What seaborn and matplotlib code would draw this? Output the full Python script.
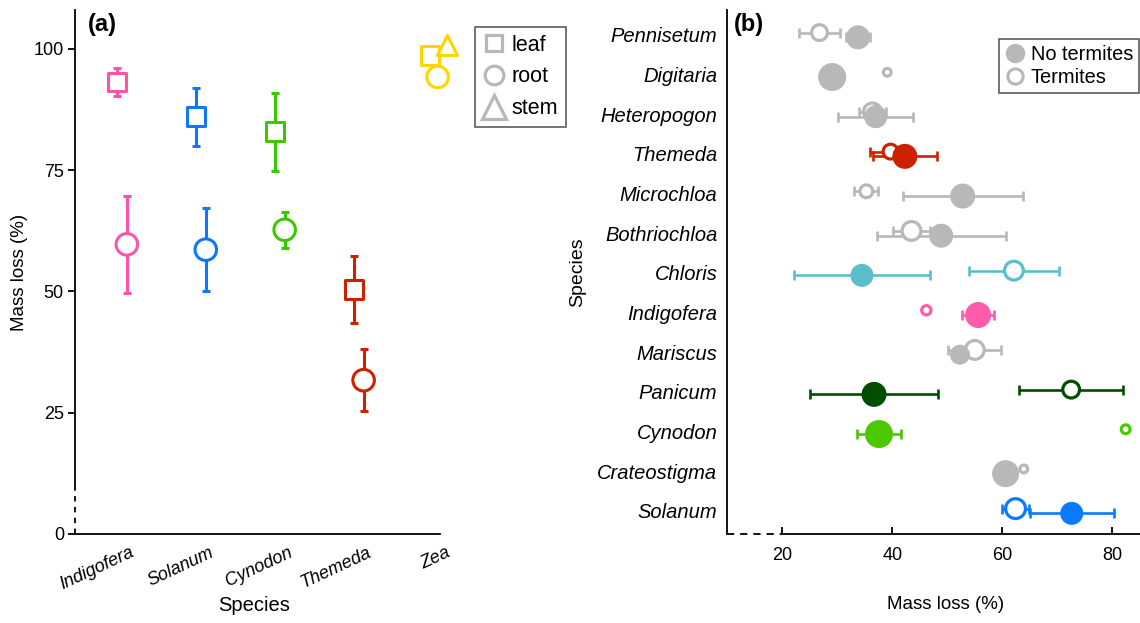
import matplotlib
matplotlib.use("Agg")
import matplotlib.pyplot as plt
import matplotlib.transforms as mtransforms
from matplotlib.lines import Line2D
import numpy as np
import pandas as pd
import seaborn as sns

# ---------------- panel (a): mass loss per plant part ----------------
species_a = ["Indigofera", "Solanum", "Cynodon", "Themeda", "Zea"]
leaf_mean = [93.2, 86.0, 82.9, 50.4, 98.6]
leaf_err = [2.9, 6.0, 8.0, 6.9, 0.0]
root_mean = [59.7, 58.6, 62.7, 31.7, 94.2]
root_err = [10.0, 8.5, 3.7, 6.4, 0.0]
stem_mean = [np.nan, np.nan, np.nan, np.nan, 100.7]
stem_err = [0.0, 0.0, 0.0, 0.0, 0.0]

# ---------------- panel (b): with / without termites ----------------
species_b = ["Pennisetum", "Digitaria", "Heteropogon", "Themeda", "Microchloa",
             "Bothriochloa", "Chloris", "Indigofera", "Mariscus", "Panicum",
             "Cynodon", "Crateostigma", "Solanum"]
noterm_mean = [33.8, 29.1, 37.0, 42.3, 52.8, 48.9, 34.5, 55.6, 52.3, 36.7, 37.6, 60.6, 72.6]
noterm_err = [2.2, 0.0, 6.85, 5.8, 10.9, 11.7, 12.3, 2.9, 0.0, 11.6, 4.0, 0.0, 7.6]
term_mean = [26.8, 39.1, 36.4, 39.7, 35.3, 43.5, 62.1, 46.2, 55.0, 72.5, 82.4, 63.9, 62.4]
term_err = [3.7, 0.0, 2.5, 3.8, 2.2, 3.3, 8.2, 0.0, 4.8, 9.5, 0.0, 0.0, 2.4]

# marker diameters (px) as drawn in panel (b)
dot_noterm = [24, 28, 23, 25, 25, 24, 23, 26, 20, 25, 28, 27, 23]
dot_term = [19, 11, 21, 18, 16, 22, 22, 12.5, 22, 20, 12, 11, 23]

# small horizontal dodge of the parts in panel (a)
dx_leaf = [-0.062, -0.062, -0.062, -0.062, -0.095]
dx_root = [0.062, 0.062, 0.062, 0.062, 0.0]
dx_stem = [0.0, 0.0, 0.0, 0.0, 0.12]

col_a = {"Indigofera": "#FF52A8", "Solanum": "#0A78FF", "Cynodon": "#3CC800",
         "Themeda": "#CC2200", "Zea": "#FFD500"}
gray = "#B8B8B8"
col_b = {s: gray for s in species_b}
col_b.update({"Themeda": "#CC2200", "Chloris": "#5BBFCB", "Indigofera": "#FF5CAE",
              "Panicum": "#004D00", "Cynodon": "#4CC800", "Solanum": "#0A7BFF"})

sns.set_theme(style="white")
plt.rcParams["font.family"] = ["Liberation Sans", "DejaVu Sans"]
plt.rcParams.update({"axes.linewidth": 1.3, "axes.edgecolor": "black", "text.color": "black",
                     "axes.labelcolor": "black", "xtick.color": "black", "ytick.color": "black"})

fig = plt.figure(figsize=(11.4, 6.23), dpi=100)
W, H = 1140, 623
ax1 = fig.add_axes([75 / W, 1 - 534 / H, 365 / W, 524 / H])
ax2 = fig.add_axes([727 / W, 1 - 534 / H, 413 / W, 524 / H])

# ---------- panel (a) ----------
rows = []
for i, sp in enumerate(species_a):
    for part, m, e, dx in (("leaf", leaf_mean, leaf_err, dx_leaf),
                           ("root", root_mean, root_err, dx_root),
                           ("stem", stem_mean, stem_err, dx_stem)):
        if not np.isnan(m[i]):
            rows.append(dict(species=sp, part=part, x=i + dx[i], mean=m[i], err=e[i]))
df_a = pd.DataFrame(rows)

for _, r in df_a.iterrows():
    if r["err"] > 0:
        ax1.errorbar(r["x"], r["mean"], yerr=r["err"], fmt="none", ecolor=col_a[r["species"]],
                     elinewidth=2.2, capsize=2.6, capthick=2.2, zorder=2)

marks = {"leaf": ("s", 13.4), "root": ("o", 15.5), "stem": ("^", 14.5)}
for part, (mk, ms) in marks.items():
    sub = df_a[df_a["part"] == part]
    sns.scatterplot(data=sub, x="x", y="mean", hue="species", palette=col_a, marker=mk,
                    s=ms ** 2, linewidth=2.2, legend=False, ax=ax1, zorder=3, clip_on=False)
    coll = ax1.collections[-1]
    coll.set_edgecolors(coll.get_facecolors())
    coll.set_facecolors("white")
    coll.set_linewidths(2.2)

ax1.set_yticks([0, 25, 50, 75, 100])
ax1.set_xticks(range(len(species_a)))
ax1.set_xticklabels(species_a, rotation=25, ha="right", va="top", rotation_mode="anchor",
                    fontstyle="italic")
ax1.set_xlim(-0.595, 4.03)
ax1.set_ylim(0, 108)
ax1.tick_params(axis="y", direction="out", length=5, width=1.3, pad=3, labelsize=13, left=True)
ax1.tick_params(axis="x", length=0, pad=7, labelsize=13)
# labels sit a little right of each species column
shift = mtransforms.ScaledTranslation(8 / 100, 0, fig.dpi_scale_trans)
for t in ax1.xaxis.get_major_ticks():
    t.label1.set_transform(t.label1.get_transform() + shift)
sns.despine(ax=ax1)
ax1.spines["left"].set_bounds(10, 108)
ax1.plot([0, 0], [0, 10], transform=mtransforms.blended_transform_factory(ax1.transAxes, ax1.transData),
         color="black", lw=1.3, ls=(0, (3, 3)), clip_on=False)
ax1.set_xlabel("Species", fontsize=14.5)
ax1.set_ylabel("Mass loss (%)", fontsize=13.5)
ax1.xaxis.set_label_coords(0.49, -0.118)
ax1.yaxis.set_label_coords(-0.128, 0.5)
ax1.text(0.036, 0.994, "(a)", transform=ax1.transAxes, fontsize=17, fontweight="bold", va="top")

leg_a = [Line2D([], [], ls="none", marker="s", ms=12, mfc="white", mec=gray, mew=2.3, label="leaf"),
         Line2D([], [], ls="none", marker="o", ms=13.5, mfc="white", mec=gray, mew=2.3, label="root"),
         Line2D([], [], ls="none", marker="^", ms=17, mfc="white", mec=gray, mew=2.3, label="stem")]
lg = fig.legend(handles=leg_a, loc="upper left", bbox_to_anchor=(475 / W, 1 - 27 / H),
                frameon=True, fancybox=False, edgecolor="#333333", fontsize=15.5,
                handlelength=1.1, handletextpad=0.25, labelspacing=0.5, borderpad=0.35,
                borderaxespad=0)
lg.get_frame().set_linewidth(1.2)

# ---------- panel (b) ----------
px2pt = 72 / 100
df_nt = pd.DataFrame(dict(species=species_b, mass=noterm_mean, err=noterm_err,
                          y=np.arange(len(species_b)) + 0.06,
                          s=[(d * px2pt) ** 2 for d in dot_noterm]))
df_t = pd.DataFrame(dict(species=species_b, mass=term_mean, err=term_err,
                         y=np.arange(len(species_b)) - 0.06,
                         s=[(max(d - 3.2, 3) * px2pt) ** 2 for d in dot_term]))

for df in (df_t, df_nt):
    for _, r in df.iterrows():
        if r["err"] > 0:
            ax2.errorbar(r["mass"], r["y"], xerr=r["err"], fmt="none", ecolor=col_b[r["species"]],
                         elinewidth=1.9, capsize=3.6, capthick=1.9, zorder=2)

sns.scatterplot(data=df_t, x="mass", y="y", hue="species", palette=col_b, s=df_t["s"].values,
                marker="o", legend=False, ax=ax2, zorder=3, clip_on=False)
coll = ax2.collections[-1]
coll.set_edgecolors(coll.get_facecolors())
coll.set_facecolors("white")
coll.set_linewidths(2.3)

sns.scatterplot(data=df_nt, x="mass", y="y", hue="species", palette=col_b, s=df_nt["s"].values,
                marker="o", linewidth=0, legend=False, ax=ax2, zorder=4, clip_on=False)

ax2.set_xlim(10, 85)
ax2.set_ylim(len(species_b) - 1 + 0.58, -0.63)
ax2.set_xticks([20, 40, 60, 80])
ax2.set_yticks(range(len(species_b)))
ax2.set_yticklabels(species_b, fontstyle="italic")
ax2.tick_params(axis="x", direction="in", length=5, width=1.3, pad=9, labelsize=13, bottom=True)
ax2.tick_params(axis="y", length=0, pad=7, labelsize=14.5)
sns.despine(ax=ax2)
ax2.spines["bottom"].set_bounds(20, 85)
ax2.plot([10, 20], [0, 0], transform=mtransforms.blended_transform_factory(ax2.transData, ax2.transAxes),
         color="black", lw=1.3, ls=(0, (4, 3.3)), clip_on=False)
ax2.set_xlabel("Mass loss (%)", fontsize=13.5)
ax2.set_ylabel("Species", fontsize=14)
ax2.xaxis.set_label_coords(0.528, -0.118)
ax2.yaxis.set_label_coords(-0.34, 0.5)
ax2.text(0.017, 0.994, "(b)", transform=ax2.transAxes, fontsize=17, fontweight="bold", va="top")

leg_b = [Line2D([], [], ls="none", marker="o", ms=14, mfc=gray, mec=gray, mew=0, label="No termites"),
         Line2D([], [], ls="none", marker="o", ms=11, mfc="white", mec=gray, mew=2.2, label="Termites")]
lg2 = fig.legend(handles=leg_b, loc="upper right", bbox_to_anchor=(1139 / W, 1 - 39 / H),
                 frameon=True, fancybox=False, edgecolor="#333333", fontsize=14.4,
                 handlelength=1.0, handletextpad=0.3, labelspacing=0.2, borderpad=0.3,
                 borderaxespad=0)
lg2.get_frame().set_linewidth(1.2)

fig.savefig("out.png", dpi=100)
